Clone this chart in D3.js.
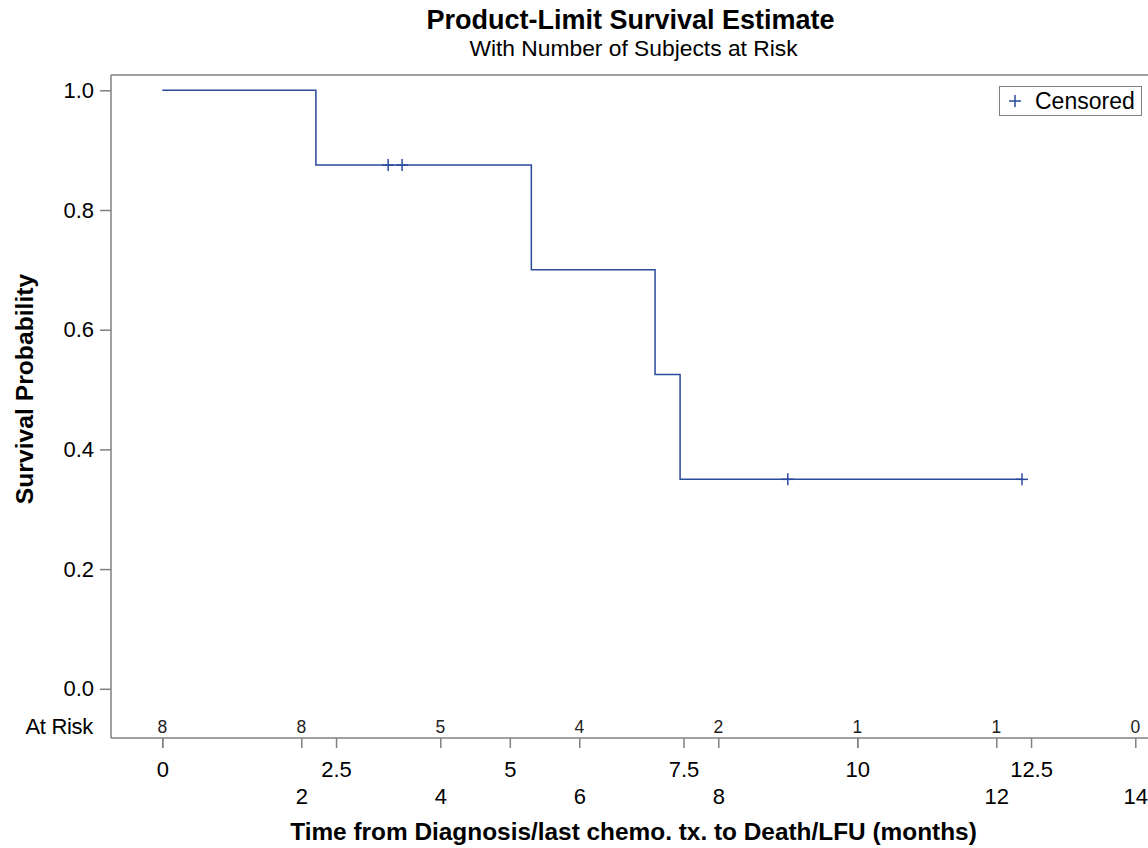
<!DOCTYPE html>
<html><head><meta charset="utf-8">
<script src="https://cdn.jsdelivr.net/npm/d3@7"></script>
<style>
body{margin:0;background:#fff;}
svg{display:block;font-family:"Liberation Sans",Arial,sans-serif;}
</style></head>
<body><svg id="c" width="1148" height="848"></svg>
<script>
// ---- data ----
const stepTimes = [0, 2.21, 5.31, 7.09, 7.45];
const stepSurv  = [1.0, 0.875, 0.7, 0.525, 0.35];
const lastTime  = 12.37;
const censorTimes = [3.25, 3.45, 9.0, 12.37];
const censorSurv  = [0.875, 0.875, 0.35, 0.35];
const riskTimes  = [0, 2, 4, 6, 8, 10, 12, 14];
const riskCounts = [8, 8, 5, 4, 2, 1, 1, 0];
const majorTicks = [0, 2.5, 5, 7.5, 10, 12.5];
const minorTickLabels = [2, 4, 6, 8, 12, 14];
const yTicks = [0, 0.2, 0.4, 0.6, 0.8, 1.0];

const svg = d3.select("#c");
const x = d3.scaleLinear().domain([0, 14]).range([162.3, 1135.3]);
const y = d3.scaleLinear().domain([0, 1]).range([688.8, 90.3]);
const frameL = 111, frameT = 75, frameB = 738, frameR = 1148;
const axisColor = "#808080";
const lineColor = "#2a4a9c";
const FF = "Liberation Sans, Arial, sans-serif";

// titles
svg.append("text").attr("x", 630.5).attr("y", 29).attr("text-anchor", "middle")
  .attr("font-size", 27).attr("font-weight", "bold").attr("fill", "#000")
  .text("Product-Limit Survival Estimate");
svg.append("text").attr("x", 633.5).attr("y", 56).attr("text-anchor", "middle")
  .attr("font-size", 22.8).attr("fill", "#000")
  .text("With Number of Subjects at Risk");

// frame
svg.append("line").attr("x1", frameL).attr("x2", frameR).attr("y1", frameT).attr("y2", frameT)
  .attr("stroke", axisColor).attr("stroke-width", 1.5);

// y axis
const yAxis = d3.axisLeft(y).tickValues(yTicks).tickFormat(d3.format(".1f")).tickSize(11).tickSizeOuter(0);
const gy = svg.append("g").attr("transform", `translate(${frameL},0)`).call(yAxis);
gy.select(".domain").remove();
gy.selectAll(".tick line").attr("stroke", axisColor).attr("stroke-width", 1.5);
gy.selectAll(".tick text").attr("font-size", 22).attr("fill", "#000").attr("x", -17)
  .attr("font-family", FF);
svg.append("line").attr("x1", frameL).attr("x2", frameL).attr("y1", frameT).attr("y2", frameB)
  .attr("stroke", axisColor).attr("stroke-width", 1.5);

// x axis line
svg.append("line").attr("x1", frameL).attr("x2", frameR).attr("y1", frameB).attr("y2", frameB)
  .attr("stroke", axisColor).attr("stroke-width", 1.5);

// major x axis
const xAxis1 = d3.axisBottom(x).tickValues(majorTicks).tickFormat(d => String(d)).tickSize(10).tickSizeOuter(0);
const gx1 = svg.append("g").attr("transform", `translate(0,${frameB})`).call(xAxis1);
gx1.select(".domain").remove();
gx1.selectAll(".tick line").attr("stroke", axisColor).attr("stroke-width", 1.5);
gx1.selectAll(".tick text").attr("font-size", 22).attr("fill", "#000").attr("y", 23)
  .attr("font-family", FF);

// secondary (at-risk) x axis
const xAxis2 = d3.axisBottom(x).tickValues(riskTimes)
  .tickFormat(d => minorTickLabels.includes(d) ? String(d) : "").tickSize(10).tickSizeOuter(0);
const gx2 = svg.append("g").attr("transform", `translate(0,${frameB})`).call(xAxis2);
gx2.select(".domain").remove();
gx2.selectAll(".tick line").attr("stroke", axisColor).attr("stroke-width", 1.5);
gx2.selectAll(".tick text").attr("font-size", 22).attr("fill", "#000").attr("y", 50)
  .attr("font-family", FF);

// axis labels
svg.append("text").attr("transform", "translate(33,389) rotate(-90)").attr("text-anchor", "middle")
  .attr("font-size", 24.7).attr("font-weight", "bold").attr("fill", "#000")
  .text("Survival Probability");
svg.append("text").attr("x", 633.5).attr("y", 840).attr("text-anchor", "middle")
  .attr("font-size", 24.4).attr("font-weight", "bold").attr("fill", "#000")
  .text("Time from Diagnosis/last chemo. tx. to Death/LFU (months)");

// at risk
svg.append("text").attr("x", 93).attr("y", 734).attr("text-anchor", "end")
  .attr("font-size", 22).attr("fill", "#000").attr("letter-spacing", -0.3).text("At Risk");
svg.selectAll("text.risk").data(riskTimes).enter().append("text").attr("class", "risk")
  .attr("x", d => x(d)).attr("y", 733).attr("text-anchor", "middle")
  .attr("font-size", 17.5).attr("fill", "#222").text((d, i) => riskCounts[i]);

// survival step line
const pts = stepTimes.map((t, i) => [t, stepSurv[i]]);
pts.push([lastTime, stepSurv[stepSurv.length - 1]]);
const line = d3.line().x(d => x(d[0])).y(d => y(d[1])).curve(d3.curveStepAfter);
svg.append("path").datum(pts).attr("d", line).attr("fill", "none")
  .attr("stroke", lineColor).attr("stroke-width", 1.5);

// censor marks
const plus = (g, cx, cy, s) => {
  g.append("line").attr("x1", cx - s).attr("x2", cx + s).attr("y1", cy).attr("y2", cy)
    .attr("stroke", lineColor).attr("stroke-width", 1.5);
  g.append("line").attr("x1", cx).attr("x2", cx).attr("y1", cy - s).attr("y2", cy + s)
    .attr("stroke", lineColor).attr("stroke-width", 1.5);
};
const gc = svg.append("g");
censorTimes.forEach((t, i) => plus(gc, x(t), y(censorSurv[i]), 6));

// legend
svg.append("rect").attr("x", 999.5).attr("y", 86.5).attr("width", 142).attr("height", 29)
  .attr("fill", "#fff").attr("stroke", "#808080").attr("stroke-width", 1);
plus(svg.append("g"), 1015, 101, 6);
svg.append("text").attr("x", 1035).attr("y", 109).attr("font-size", 23).attr("fill", "#000").text("Censored");
</script></body></html>
